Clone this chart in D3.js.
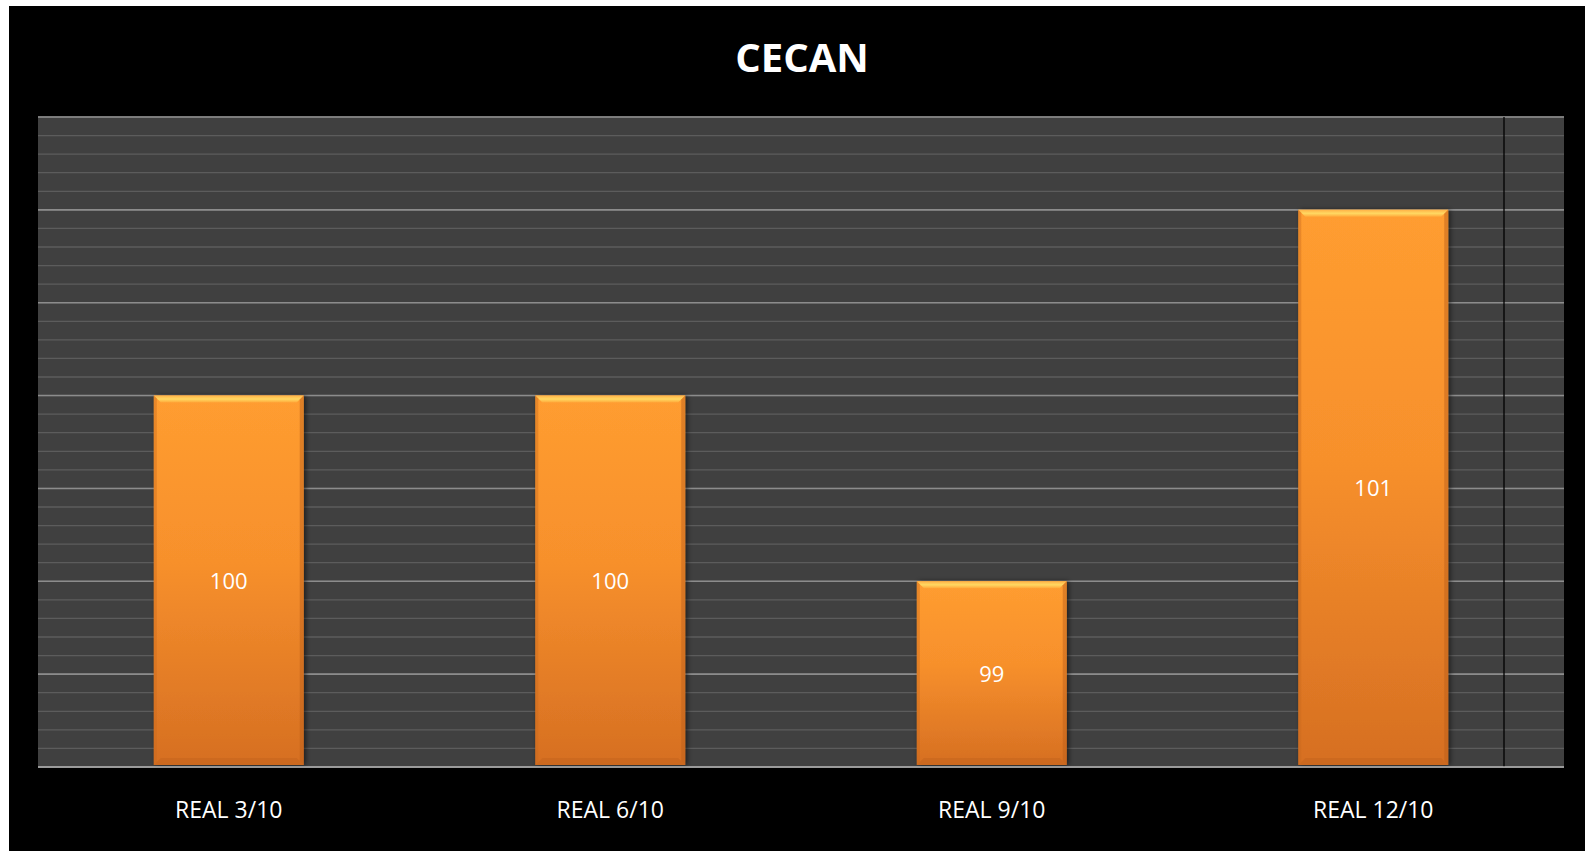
<!DOCTYPE html>
<html lang="es">
<head>
  <meta charset="UTF-8">
  <title>CECAN</title>
  <script src="https://d3js.org/d3.v7.min.js"></script>
  <style>
    body {
      margin: 0;
      background: #fff;
      font-family: "Open Sans", sans-serif;
    }
    svg { display: block; }
  </style>
</head>
<body>
<div id="chart"></div>

<script>
  // data
  var categories = ["REAL 3/10", "REAL 6/10", "REAL 9/10", "REAL 12/10"];
  var values = [100, 100, 99, 101];
  var yDomain = [98, 101.5];

  var width = 1585, height = 851;
  var plot = {left: 38, right: 1564, top: 117, bottom: 767};

  var svg = d3.select("#chart").append("svg")
    .attr("width", width)
    .attr("height", height);

  var defs = svg.append("defs");

  var grad = defs.append("linearGradient")
    .attr("id", "barFill")
    .attr("x1", 0).attr("y1", 0).attr("x2", 0).attr("y2", 1);
  grad.append("stop").attr("offset", "0%").attr("stop-color", "#ff9d30");
  grad.append("stop").attr("offset", "45%").attr("stop-color", "#f7902c");
  grad.append("stop").attr("offset", "100%").attr("stop-color", "#d66f22");

  var topBevel = defs.append("linearGradient")
    .attr("id", "topBevel")
    .attr("x1", 0).attr("y1", 0).attr("x2", 0).attr("y2", 1);
  topBevel.append("stop").attr("offset", "0%").attr("stop-color", "#ffb347");
  topBevel.append("stop").attr("offset", "50%").attr("stop-color", "#ffd862");
  topBevel.append("stop").attr("offset", "100%").attr("stop-color", "#ffa83a");

  var shadow = defs.append("filter")
    .attr("id", "shadow")
    .attr("x", "-10%").attr("y", "-5%").attr("width", "120%").attr("height", "110%");
  shadow.append("feDropShadow")
    .attr("dx", 2).attr("dy", 0).attr("stdDeviation", 2.5)
    .attr("flood-color", "#000").attr("flood-opacity", 0.55);

  // black chart area
  svg.append("rect")
    .attr("x", 9).attr("y", 6)
    .attr("width", width - 9).attr("height", height - 6)
    .attr("fill", "#000");

  var x = d3.scaleBand()
    .domain(categories)
    .range([plot.left, plot.right])
    .paddingInner(0.607)
    .paddingOuter(0.3035);

  var y = d3.scaleLinear()
    .domain(yDomain)
    .range([plot.bottom, plot.top]);

  // plot background
  svg.append("rect")
    .attr("x", plot.left).attr("y", plot.top)
    .attr("width", plot.right - plot.left)
    .attr("height", plot.bottom - plot.top)
    .attr("fill", "#404040");

  // minor and major gridlines
  var minor = d3.range(0, 36).map(function(i) { return yDomain[0] + i * 0.1; });
  var major = d3.range(0, 8).map(function(i) { return yDomain[0] + i * 0.5; });

  svg.append("g")
    .selectAll("line")
    .data(minor)
    .join("line")
    .attr("x1", plot.left).attr("x2", plot.right)
    .attr("y1", function(d) { return y(d); })
    .attr("y2", function(d) { return y(d); })
    .attr("stroke", "#5c5c5c")
    .attr("stroke-width", 1.3);

  svg.append("g")
    .selectAll("line")
    .data(major)
    .join("line")
    .attr("x1", plot.left).attr("x2", plot.right)
    .attr("y1", function(d) { return y(d); })
    .attr("y2", function(d) { return y(d); })
    .attr("stroke", "#8c8c8c")
    .attr("stroke-width", 1.6);

  // black divider line near the right edge
  svg.append("line")
    .attr("x1", plot.right - 60).attr("x2", plot.right - 60)
    .attr("y1", plot.top).attr("y2", plot.bottom)
    .attr("stroke", "#000")
    .attr("stroke-width", 1.3);

  // bars
  var bars = svg.append("g")
    .selectAll("g")
    .data(values)
    .join("g")
    .attr("transform", function(d, i) { return "translate(" + x(categories[i]) + ",0)"; });

  var bw = x.bandwidth();
  var bevel = 7;

  bars.append("rect")
    .attr("x", 0)
    .attr("y", function(d) { return y(d); })
    .attr("width", bw)
    .attr("height", function(d) { return y(yDomain[0]) - y(d) - 2; })
    .attr("fill", "url(#barFill)")
    .attr("filter", "url(#shadow)");

  // top bevel highlight
  bars.append("path")
    .attr("d", function(d) {
      var t = y(d);
      return "M0," + t + "L" + bw + "," + t + "L" + (bw - bevel) + "," + (t + bevel) +
        "L" + bevel + "," + (t + bevel) + "Z";
    })
    .attr("fill", "url(#topBevel)");

  // side and bottom bevel shading
  bars.append("path")
    .attr("d", function(d) {
      var b = y(yDomain[0]) - 2;
      return "M0," + b + "L" + bw + "," + b + "L" + (bw - bevel) + "," + (b - bevel) +
        "L" + bevel + "," + (b - bevel) + "Z";
    })
    .attr("fill", "#c4641d")
    .attr("opacity", 0.55);

  bars.append("path")
    .attr("d", function(d) {
      var t = y(d), b = y(yDomain[0]) - 2;
      return "M" + bw + "," + t + "L" + bw + "," + b + "L" + (bw - 4) + "," + (b - 4) +
        "L" + (bw - 4) + "," + (t + 4) + "Z";
    })
    .attr("fill", "#b85d1a")
    .attr("opacity", 0.45);

  bars.append("path")
    .attr("d", function(d) {
      var t = y(d), b = y(yDomain[0]) - 2;
      return "M0," + t + "L0," + b + "L3," + (b - 3) + "L3," + (t + 3) + "Z";
    })
    .attr("fill", "#c8681e")
    .attr("opacity", 0.4);

  // value labels
  bars.append("text")
    .attr("x", bw / 2)
    .attr("y", function(d) { return (y(d) + y(yDomain[0])) / 2; })
    .attr("dy", "0.35em")
    .attr("text-anchor", "middle")
    .attr("fill", "#fff")
    .attr("font-size", 22)
    .text(function(d) { return d; });

  // baseline
  svg.append("line")
    .attr("x1", plot.left).attr("x2", plot.right)
    .attr("y1", plot.bottom).attr("y2", plot.bottom)
    .attr("stroke", "#a6a6a6")
    .attr("stroke-width", 1.6);

  // category labels
  var xAxis = d3.axisBottom(x).tickSize(0).tickPadding(0);
  var gx = svg.append("g")
    .attr("transform", "translate(0," + plot.bottom + ")")
    .call(xAxis);
  gx.select(".domain").remove();
  gx.selectAll("text")
    .attr("y", 51)
    .attr("dy", 0)
    .attr("fill", "#fff")
    .attr("font-size", 23)
    .attr("font-family", "'Open Sans', sans-serif");

  // title
  svg.append("text")
    .attr("x", (plot.left + plot.right) / 2 + 1)
    .attr("y", 72)
    .attr("text-anchor", "middle")
    .attr("fill", "#fff")
    .attr("font-size", 40)
    .attr("font-weight", "bold")
    .text("CECAN");
</script>
</body>
</html>
